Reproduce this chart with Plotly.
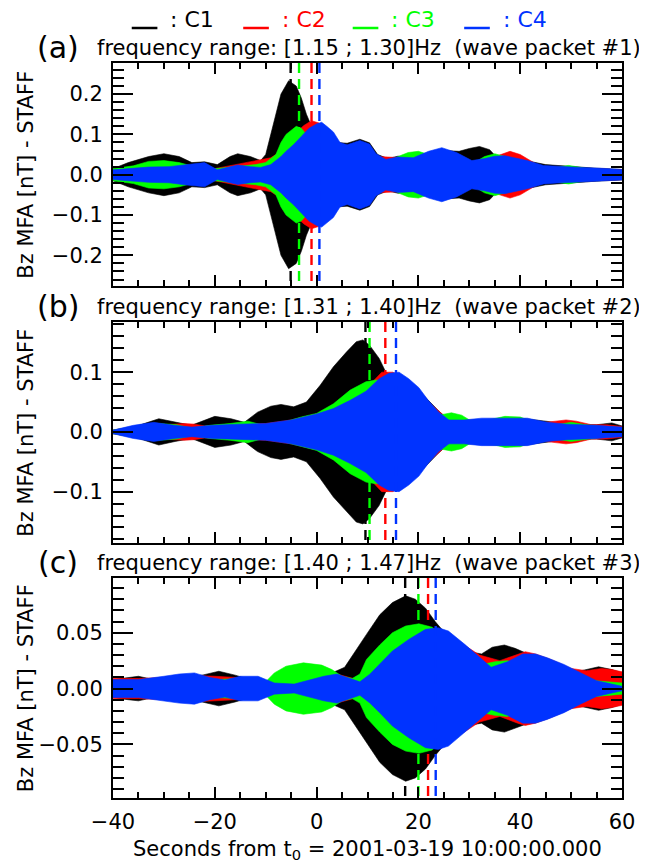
import plotly.graph_objects as go

# ---------------- data ----------------
SERIES = ["C1", "C2", "C3", "C4"]
COLORS = ["#000000", "#FF0000", "#00FF00", "#0033FF"]

TIME_RANGE = [-40, 60]
X_TICKS = [-40, -20, 0, 20, 40, 60]

# panel (a): wave packet #1, envelope amplitude (nT) of Bz vs time (s)
A_C1_T = [-40, -37, -33, -30, -27, -24.5, -22, -19.5, -17, -15.5, -13, -11, -10, -9, -8, -7, -5.5, -4, -3, -2, -1, 0, 2, 4, 6, 8.5, 10.4, 12, 14, 16, 19, 22, 25, 28, 30, 32, 34, 36, 40, 45, 50, 55, 60]
A_C1_AMP = [0.015, 0.03, 0.045, 0.052, 0.045, 0.03, 0.032, 0.025, 0.045, 0.052, 0.045, 0.035, 0.05, 0.1, 0.15, 0.2, 0.233, 0.22, 0.19, 0.15, 0.12, 0.1, 0.1, 0.08, 0.078, 0.088, 0.079, 0.05, 0.04, 0.046, 0.04, 0.05, 0.06, 0.058, 0.065, 0.07, 0.062, 0.035, 0.038, 0.025, 0.02, 0.016, 0.013]
A_C2_T = [-40, -30, -20, -14, -12, -10, -9, -8, -6, -4, -2.5, -1, 0.5, 2, 4, 8, 12, 20, 30, 34, 36, 38, 40, 44, 48, 52, 56, 60]
A_C2_AMP = [0.012, 0.018, 0.015, 0.03, 0.035, 0.04, 0.042, 0.05, 0.075, 0.105, 0.122, 0.134, 0.128, 0.11, 0.075, 0.07, 0.045, 0.04, 0.03, 0.04, 0.05, 0.058, 0.05, 0.02, 0.018, 0.015, 0.014, 0.012]
A_C3_T = [-40, -36, -33, -30, -27, -24, -20, -16, -12, -10, -8, -7, -6, -4, -3, -2, 0, 5, 10, 14, 16, 18, 20, 22, 24, 28, 31, 33, 35, 37, 39, 42, 45, 47, 49.5, 52, 55, 60]
A_C3_AMP = [0.015, 0.022, 0.033, 0.035, 0.03, 0.02, 0.015, 0.02, 0.025, 0.03, 0.05, 0.08, 0.1, 0.12, 0.115, 0.1, 0.08, 0.06, 0.05, 0.03, 0.045, 0.055, 0.058, 0.05, 0.035, 0.02, 0.03, 0.045, 0.052, 0.045, 0.03, 0.015, 0.012, 0.018, 0.023, 0.018, 0.01, 0.008]
A_C4_T = [-40, -37, -33, -29, -26, -24, -22, -19.5, -17, -15.5, -13, -11, -9, -7, -6, -4.5, -3, -1.5, 0, 1, 2, 3.3, 4.6, 6, 8.5, 10.4, 11.7, 13.6, 16, 19, 22, 24.6, 27.5, 30.5, 33, 35, 37, 39, 41.4, 44.6, 48, 52, 56, 60]
A_C4_AMP = [0.012, 0.015, 0.019, 0.02, 0.025, 0.028, 0.03, 0.012, 0.02, 0.024, 0.02, 0.018, 0.025, 0.045, 0.058, 0.075, 0.095, 0.115, 0.126, 0.13, 0.12, 0.106, 0.08, 0.074, 0.085, 0.076, 0.052, 0.038, 0.044, 0.042, 0.058, 0.067, 0.055, 0.035, 0.04, 0.046, 0.047, 0.042, 0.035, 0.023, 0.02, 0.018, 0.016, 0.013]

# panel (b): wave packet #2
B_C1_T = [-40, -36, -31, -27.8, -24.6, -20, -16.8, -14.2, -11.6, -9, -7, -4.5, -2, 0.7, 3.3, 5.9, 7.8, 9.1, 10.4, 12.3, 13.6, 16, 20, 24, 26, 30, 35, 40, 45, 50, 55, 58, 60]
B_C1_AMP = [0.003, 0.008, 0.022, 0.016, 0.011, 0.026, 0.022, 0.016, 0.033, 0.043, 0.046, 0.042, 0.05, 0.078, 0.109, 0.134, 0.151, 0.154, 0.145, 0.123, 0.1, 0.09, 0.07, 0.035, 0.02, 0.02, 0.022, 0.023, 0.018, 0.012, 0.012, 0.015, 0.01]
B_C2_T = [-40, -35, -30, -26, -24, -22, -18, -14, -10, -5, 0, 5, 10, 12.8, 15, 18, 22, 26, 30, 35, 40, 44, 47, 49, 51, 54, 57, 60]
B_C2_AMP = [0.003, 0.01, 0.012, 0.014, 0.013, 0.01, 0.012, 0.013, 0.014, 0.02, 0.03, 0.05, 0.075, 0.1, 0.1, 0.085, 0.05, 0.02, 0.018, 0.021, 0.02, 0.015, 0.018, 0.02, 0.018, 0.012, 0.012, 0.009]
B_C3_T = [-40, -35, -31, -27.5, -24.5, -21, -17, -13.5, -10, -7, -5, -3, 0, 3.3, 6.6, 9.7, 11.7, 13, 16, 20, 22, 24, 26.5, 28.5, 31, 34, 37, 40, 43, 47, 50, 53, 56, 60]
B_C3_AMP = [0.003, 0.01, 0.014, 0.012, 0.006, 0.011, 0.014, 0.018, 0.01, 0.015, 0.02, 0.025, 0.031, 0.047, 0.07, 0.084, 0.087, 0.085, 0.07, 0.05, 0.035, 0.028, 0.032, 0.028, 0.015, 0.02, 0.026, 0.025, 0.015, 0.012, 0.016, 0.012, 0.009, 0.007]
B_C4_T = [-40, -36, -32, -28, -24.5, -20.5, -15.5, -10, -5, 0, 3.3, 6.6, 9.7, 12.3, 14.2, 16.2, 18.1, 20.1, 22, 24, 26, 29, 32.4, 35.6, 38.9, 41.4, 45.3, 49.2, 55, 60]
B_C4_AMP = [0.003, 0.011, 0.016, 0.011, 0.008, 0.011, 0.013, 0.014, 0.02, 0.03, 0.039, 0.053, 0.068, 0.089, 0.098, 0.1, 0.089, 0.074, 0.052, 0.033, 0.02, 0.02, 0.023, 0.023, 0.023, 0.023, 0.016, 0.013, 0.011, 0.008]

# panel (c): wave packet #3
C_C1_T = [-40, -37, -35, -33, -30, -26, -22.5, -19.2, -16, -13, -10, -7, -4, 0, 3, 5.5, 7.2, 9.8, 12.4, 14.9, 17.5, 19.4, 21.4, 23.3, 24.6, 27, 30, 32.4, 34.5, 36.9, 39, 41, 44, 47, 50, 52, 55.4, 58, 60]
C_C1_AMP = [0.008, 0.01, 0.011, 0.009, 0.008, 0.01, 0.012, 0.0155, 0.012, 0.008, 0.006, 0.006, 0.01, 0.012, 0.014, 0.019, 0.031, 0.0485, 0.066, 0.077, 0.083, 0.08, 0.072, 0.06, 0.053, 0.045, 0.033, 0.031, 0.037, 0.039, 0.036, 0.032, 0.027, 0.022, 0.016, 0.016, 0.0195, 0.017, 0.014]
C_C2_T = [-40, -35, -30, -25, -20, -16, -12, -8, -4, 0, 4, 8, 12, 16, 20, 24, 28, 32, 36, 39.5, 41, 43, 46, 50, 53, 56, 58, 60]
C_C2_AMP = [0.009, 0.009, 0.01, 0.012, 0.011, 0.01, 0.008, 0.005, 0.006, 0.009, 0.013, 0.008, 0.02, 0.036, 0.048, 0.053, 0.042, 0.03, 0.025, 0.031, 0.033, 0.031, 0.026, 0.018, 0.016, 0.018, 0.017, 0.015]
C_C3_T = [-40, -35, -30, -25, -20, -15, -10, -8.3, -6, -2.6, 1, 3, 5, 7, 8.5, 9.8, 12.4, 14.9, 17.5, 20.1, 22.7, 25, 28, 31, 33, 35, 37.5, 40, 44, 48, 52, 55, 58, 60]
C_C3_AMP = [0.007, 0.007, 0.009, 0.01, 0.008, 0.009, 0.006, 0.014, 0.02, 0.023, 0.021, 0.017, 0.011, 0.009, 0.013, 0.026, 0.039, 0.05, 0.056, 0.058, 0.055, 0.045, 0.03, 0.02, 0.022, 0.024, 0.025, 0.02, 0.015, 0.01, 0.008, 0.007, 0.006, 0.005]
C_C4_T = [-40, -35, -30, -27, -24, -21, -18, -15, -11.5, -8.3, -4.4, -1.9, 1.4, 4, 5.3, 8.5, 10.4, 12.4, 14.9, 18.1, 21.4, 23.9, 25.9, 29.1, 31.7, 34.3, 37.5, 40.5, 43, 45.3, 48.6, 51.8, 55, 58, 60]
C_C4_AMP = [0.008, 0.008, 0.011, 0.013, 0.014, 0.01, 0.0076, 0.011, 0.011, 0.005, 0.004, 0.007, 0.011, 0.013, 0.011, 0.006, 0.0127, 0.0217, 0.0336, 0.044, 0.053, 0.0545, 0.0515, 0.0396, 0.029, 0.019, 0.024, 0.031, 0.031, 0.0276, 0.0216, 0.014, 0.007, 0.004, 0.002]

# times of the dashed markers (C1, C2, C3, C4)
MARK_A = [-5.1, -1.0, -3.45, 0.55]
MARK_B = [9.6, 13.5, 10.4, 15.6]
MARK_C = [17.4, 21.9, 20.0, 23.4]

Y_RANGE_A = [-0.276, 0.277]
Y_RANGE_B = [-0.186, 0.184]
Y_RANGE_C = [-0.098, 0.099]
Y_TICKS_A = [-0.2, -0.1, 0.0, 0.1, 0.2]
Y_TICKS_B = [-0.1, 0.0, 0.1]
Y_TICKS_C = [-0.05, 0.0, 0.05]

TITLES = ["frequency range: [1.15 ; 1.30]Hz\u00a0\u00a0(wave packet #1)",
          "frequency range: [1.31 ; 1.40]Hz\u00a0\u00a0(wave packet #2)",
          "frequency range: [1.40 ; 1.47]Hz\u00a0\u00a0(wave packet #3)"]
LABELS = ["(a)", "(b)", "(c)"]
Y_TITLE = "Bz MFA [nT] - STAFF"
X_TITLE = "Seconds from t<sub>0</sub> = 2001-03-19 10:00:00.000"

# ---------------- layout geometry ----------------
# the page body has an 8 px margin, so figure coords = screen coords - 8
OFF = 8
W, H = 647 - OFF, 865 - OFF
L, R, T, B = 113 - OFF, 629 - OFF, 63 - OFF, 798 - OFF
PANELS_PX = [(63, 286), (322, 543), (578, 798)]   # screen pixels
FONT = "DejaVu Sans"


def px(x):  # screen x -> paper
    return (x - OFF - L) / (R - L)


def py(y):  # screen y -> paper
    return (B - (y - OFF)) / (B - T)


panels = [
    dict(series=[(A_C1_T, A_C1_AMP), (A_C2_T, A_C2_AMP), (A_C3_T, A_C3_AMP), (A_C4_T, A_C4_AMP)],
         marks=MARK_A, yr=Y_RANGE_A, yt=Y_TICKS_A, fmt=".1f", minor=0.02),
    dict(series=[(B_C1_T, B_C1_AMP), (B_C2_T, B_C2_AMP), (B_C3_T, B_C3_AMP), (B_C4_T, B_C4_AMP)],
         marks=MARK_B, yr=Y_RANGE_B, yt=Y_TICKS_B, fmt=".1f", minor=0.02),
    dict(series=[(C_C1_T, C_C1_AMP), (C_C2_T, C_C2_AMP), (C_C3_T, C_C3_AMP), (C_C4_T, C_C4_AMP)],
         marks=MARK_C, yr=Y_RANGE_C, yt=Y_TICKS_C, fmt=".2f", minor=0.01),
]

fig = go.Figure()
layout = dict(width=W, height=H, margin=dict(l=L, r=W - R, t=T, b=H - B),
              paper_bgcolor="white", plot_bgcolor="white", showlegend=False,
              font=dict(family=FONT, size=20, color="black"))

annotations = []
shapes = []

for i, p in enumerate(panels):
    k = "" if i == 0 else str(i + 1)
    xa, ya = "x" + k, "y" + k
    for (t, amp), color in zip(p["series"], COLORS):
        xs = list(t) + list(t[::-1])
        ys = list(amp) + [-a for a in amp[::-1]]
        fig.add_trace(go.Scatter(x=xs, y=ys, xaxis=xa, yaxis=ya, mode="lines",
                                 fill="toself", fillcolor=color,
                                 line=dict(color=color, width=0.6), hoverinfo="skip"))
        idx = COLORS.index(color)
        m = p["marks"][idx]
        fig.add_trace(go.Scatter(x=[m, m], y=[p["yr"][1], p["yr"][0]], xaxis=xa, yaxis=ya,
                                 mode="lines", line=dict(color=color, width=2.4, dash="10px,6px"),
                                 hoverinfo="skip"))
    top, bot = PANELS_PX[i]
    layout["xaxis" + k] = dict(
        domain=[0, 1], anchor=ya, range=TIME_RANGE, tickvals=X_TICKS,
        showticklabels=(i == 2), ticks="inside", ticklen=11, tickwidth=2,
        showline=True, linewidth=2, linecolor="black", mirror="allticks",
        showgrid=False, zeroline=False, tickcolor="black",
        minor=dict(dtick=5, tick0=0, ticks="inside", ticklen=6, tickwidth=2, tickcolor="black", showgrid=False),
        tickfont=dict(size=21), ticklabelstandoff=4, ticklabeloverflow="allow")
    layout["yaxis" + k] = dict(
        domain=[py(bot), py(top)], anchor=xa, range=p["yr"], tickvals=p["yt"],
        tickformat=p["fmt"], ticks="inside", ticklen=20, tickwidth=2,
        showline=True, linewidth=2, linecolor="black", mirror="allticks",
        showgrid=False, zeroline=False, tickcolor="black",
        minor=dict(dtick=p["minor"], tick0=0, ticks="inside", ticklen=11, tickwidth=2, tickcolor="black", showgrid=False),
        tickfont=dict(size=21), ticklabelstandoff=4, ticklabeloverflow="allow")
    # panel title + label
    annotations.append(dict(text=TITLES[i], xref="paper", yref="paper", x=px(95), y=py(top - 15),
                            xanchor="left", yanchor="middle", showarrow=False, font=dict(size=21)))
    annotations.append(dict(text=LABELS[i], xref="paper", yref="paper", x=px(57), y=py(top - 16),
                            xanchor="center", yanchor="middle", showarrow=False, font=dict(size=30)))
    annotations.append(dict(text=Y_TITLE, xref="paper", yref="paper", x=px(25), y=py((top + bot) / 2),
                            xanchor="center", yanchor="middle", textangle=-90, showarrow=False,
                            font=dict(size=21)))

annotations.append(dict(text=X_TITLE, xref="paper", yref="paper", x=px(371), y=py(850),
                        xanchor="center", yanchor="middle", showarrow=False, font=dict(size=21)))

# top legend
LEG_X = [132, 245, 356, 469]
for name, color, x0 in zip(SERIES, COLORS, LEG_X):
    shapes.append(dict(type="line", xref="paper", yref="paper", x0=px(x0), x1=px(x0 + 26),
                       y0=py(28), y1=py(28), line=dict(color=color, width=2.5)))
    annotations.append(dict(text=":\u00a0" + name, xref="paper", yref="paper", x=px(x0 + 37), y=py(19),
                            xanchor="left", yanchor="middle", showarrow=False,
                            font=dict(size=22, color=color)))

layout["annotations"] = annotations
layout["shapes"] = shapes
fig.update_layout(**layout)
fig.write_html("out.html")
